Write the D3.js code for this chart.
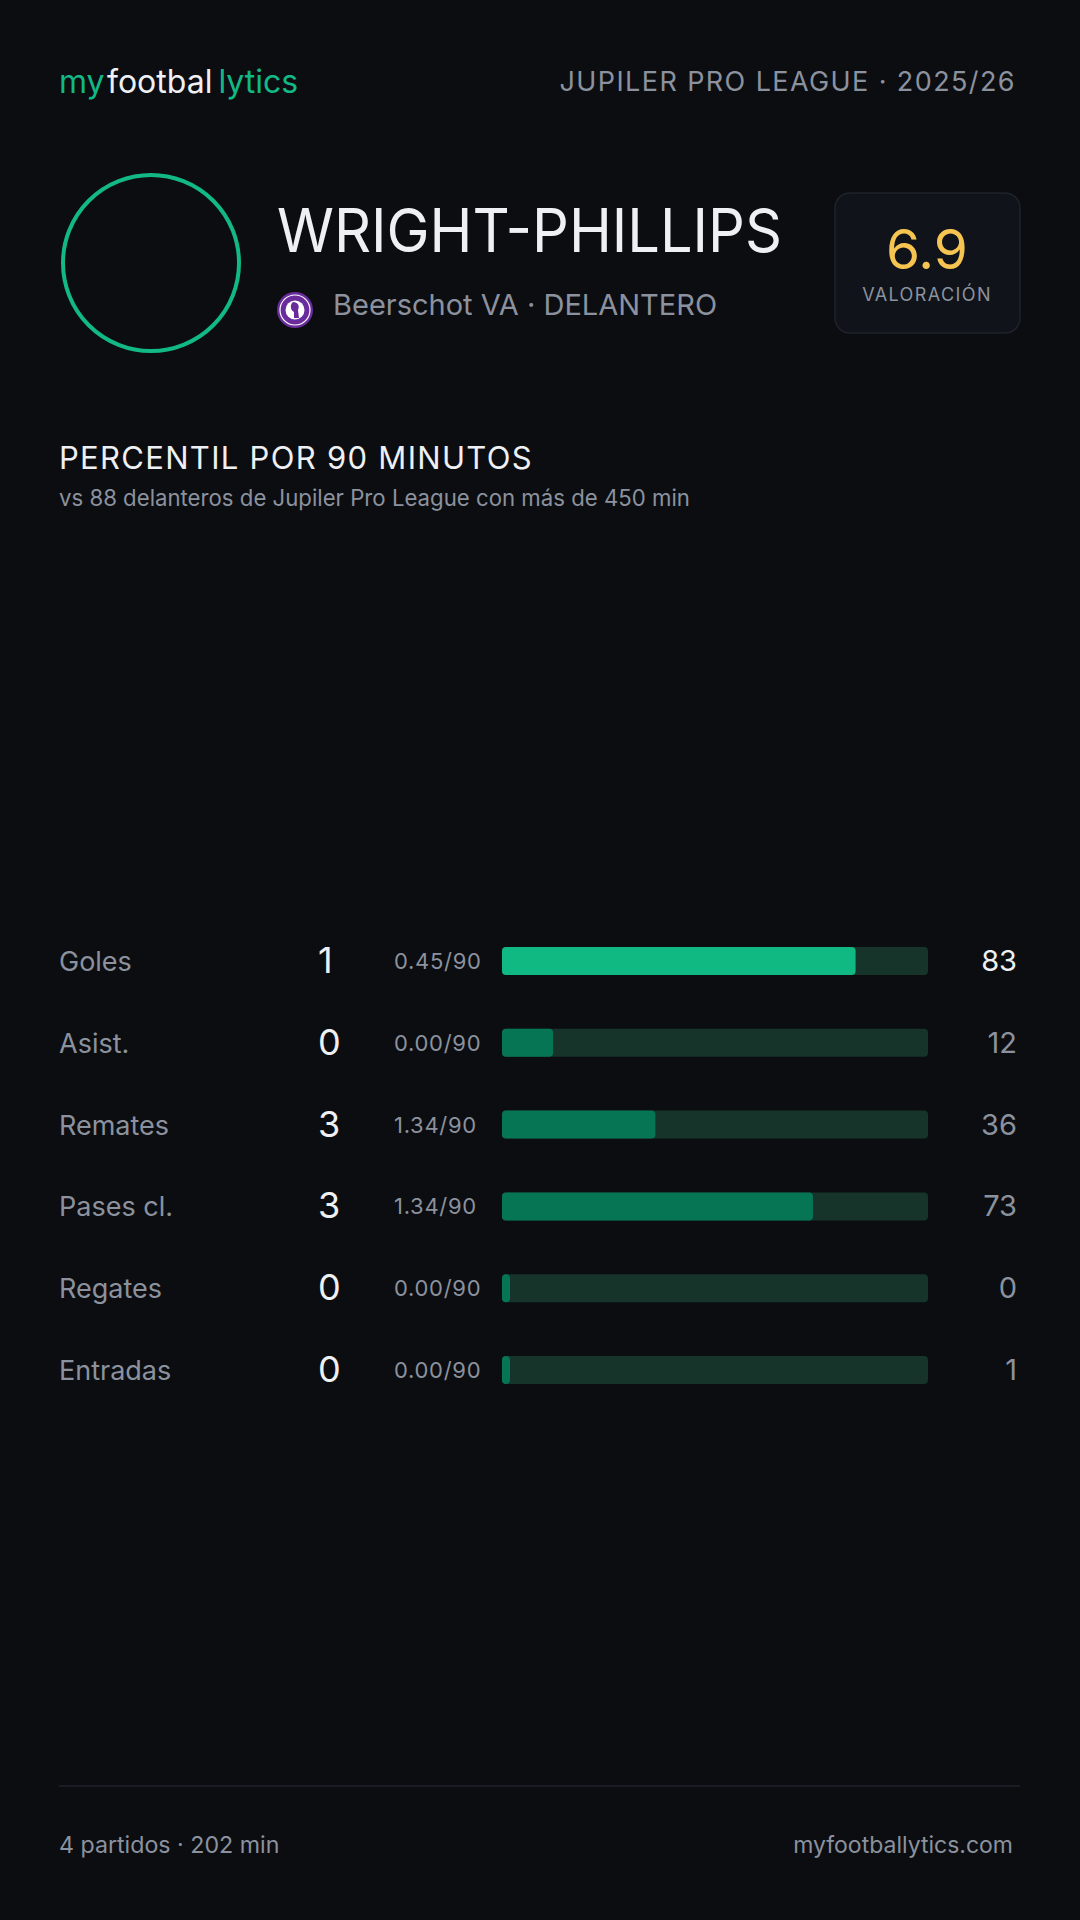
<!DOCTYPE html>
<html>
<head>
<meta charset="utf-8">
<script src="https://cdn.jsdelivr.net/npm/d3@7"></script>
<style>
  html, body { margin: 0; padding: 0; background: #0b0d11; }
  svg { display: block; font-family: Inter, "Noto Sans", sans-serif; }
</style>
</head>
<body>
<div id="chart"></div>
<script>
/* DATA */
const metrics = ["Goles", "Asist.", "Remates", "Pases cl.", "Regates", "Entradas"];
const totals = [1, 0, 3, 3, 0, 0];
const per90 = [0.45, 0.00, 1.34, 1.34, 0.00, 0.00];
const percentiles = [83, 12, 36, 73, 0, 1];

const playerName = "WRIGHT-PHILLIPS";
const clubLine = "Beerschot VA · DELANTERO";
const rating = "6.9";
const league = "JUPILER PRO LEAGUE · 2025/26";
const footerLeft = "4 partidos · 202 min";
const footerRight = "myfootballytics.com";

/* CONSTANTS */
const width = 1080, height = 1920;
const m = { left: 59, right: 60 };
const gray = "#8b929e", white = "#eef0f3";

const svg = d3.select("#chart").append("svg")
  .attr("width", width)
  .attr("height", height)
  .attr("viewBox", `0 0 ${width} ${height}`);

svg.append("rect").attr("width", width).attr("height", height).attr("fill", "#0b0d11");

// HEADER
const logo = svg.append("text")
  .attr("x", m.left).attr("y", 93)
  .attr("font-size", 32)
  .attr("letter-spacing", 0);
logo.append("tspan").attr("fill", "#12b886").text("my");
logo.append("tspan").attr("fill", white).attr("dx", 2).text("footbal");
logo.append("tspan").attr("fill", "#12b886").attr("dx", 6).text("lytics");

svg.append("text")
  .attr("x", width - m.right - 4).attr("y", 91)
  .attr("text-anchor", "end")
  .attr("font-size", 27)
  .attr("letter-spacing", 1.4)
  .attr("fill", gray)
  .text(league);

// PLAYER
svg.append("circle")
  .attr("cx", 151).attr("cy", 263).attr("r", 88)
  .attr("fill", "none")
  .attr("stroke", "#12b886")
  .attr("stroke-width", 4);

svg.append("text")
  .attr("x", 277).attr("y", 252)
  .attr("font-size", 60)
  .attr("fill", white)
  .attr("textLength", 505)
  .attr("lengthAdjust", "spacingAndGlyphs")
  .text(playerName);

// club badge
const badge = svg.append("g").attr("transform", "translate(295,310)");
badge.append("circle").attr("r", 18).attr("fill", "#6a2c9c");
badge.append("circle").attr("r", 15).attr("fill", "none").attr("stroke", "#fff").attr("stroke-width", 1.2);
badge.append("circle").attr("r", 9.5).attr("fill", "#fff");
badge.append("path").attr("d", "M-2,-8 C3,-8 5,-4 3,0 L4,8 L-1,8 L-1,2 C-5,0 -5,-6 -2,-8 Z").attr("fill", "#6a2c9c");

svg.append("text")
  .attr("x", 333).attr("y", 315)
  .attr("font-size", 29)
  .attr("fill", gray)
  .text(clubLine);

// rating box
svg.append("rect")
  .attr("x", 835).attr("y", 193)
  .attr("width", 185).attr("height", 140)
  .attr("rx", 15)
  .attr("fill", "#10141a")
  .attr("stroke", "#1e232b")
  .attr("stroke-width", 1.5);

svg.append("text")
  .attr("x", 927).attr("y", 269)
  .attr("text-anchor", "middle")
  .attr("font-size", 55)
  .attr("fill", "#f5c451")
  .text(rating);

svg.append("text")
  .attr("x", 927).attr("y", 301)
  .attr("text-anchor", "middle")
  .attr("font-size", 18)
  .attr("letter-spacing", 1.4)
  .attr("fill", gray)
  .text("VALORACIÓN");

// TITLE
svg.append("text")
  .attr("x", m.left).attr("y", 469)
  .attr("font-size", 31)
  .attr("letter-spacing", 1.3)
  .attr("fill", white)
  .text("PERCENTIL POR 90 MINUTOS");

svg.append("text")
  .attr("x", m.left).attr("y", 506)
  .attr("font-size", 22.2)
  .attr("fill", gray)
  .text("vs 88 delanteros de Jupiler Pro League con más de 450 min");

// SCALES
const xScale = d3.scaleLinear().domain([0, 100]).range([502, 928]);
const yScale = d3.scalePoint().domain(metrics).range([961, 1370]);
const barH = 28, minW = 8;
const fillColor = p => p >= 80 ? "#10b981" : "#067553";

const rows = svg.selectAll(".row")
  .data(metrics)
  .enter()
  .append("g")
  .attr("class", "row")
  .attr("transform", d => `translate(0,${yScale(d)})`);

rows.append("text")
  .attr("x", m.left).attr("y", 10)
  .attr("font-size", 27)
  .attr("fill", gray)
  .text(d => d);

rows.append("text")
  .attr("x", 318).attr("y", 12)
  .attr("font-size", 36)
  .attr("fill", white)
  .text((d, i) => totals[i]);

rows.append("text")
  .attr("x", 394).attr("y", 8)
  .attr("font-size", 22)
  .attr("letter-spacing", 0.7)
  .attr("fill", gray)
  .text((d, i) => per90[i].toFixed(2) + "/90");

rows.append("rect")
  .attr("x", xScale(0)).attr("y", -barH / 2)
  .attr("width", xScale(100) - xScale(0))
  .attr("height", barH)
  .attr("rx", 4)
  .attr("fill", "#16342a");

rows.append("rect")
  .attr("x", xScale(0)).attr("y", -barH / 2)
  .attr("width", (d, i) => Math.max(xScale(percentiles[i]) - xScale(0), minW))
  .attr("height", barH)
  .attr("rx", 4)
  .attr("fill", (d, i) => fillColor(percentiles[i]));

rows.append("text")
  .attr("x", width - m.right - 3).attr("y", 10)
  .attr("text-anchor", "end")
  .attr("font-size", 29)
  .attr("fill", (d, i) => percentiles[i] >= 80 ? white : gray)
  .text((d, i) => percentiles[i]);

// FOOTER
svg.append("line")
  .attr("x1", m.left).attr("x2", width - m.right)
  .attr("y1", 1786).attr("y2", 1786)
  .attr("stroke", "#1f222b")
  .attr("stroke-width", 1.5);

svg.append("text")
  .attr("x", m.left).attr("y", 1853)
  .attr("font-size", 23.2)
  .attr("fill", gray)
  .text(footerLeft);

svg.append("text")
  .attr("x", width - m.right - 7).attr("y", 1853)
  .attr("text-anchor", "end")
  .attr("font-size", 23)
  .attr("fill", gray)
  .text(footerRight);
</script>
</body>
</html>
